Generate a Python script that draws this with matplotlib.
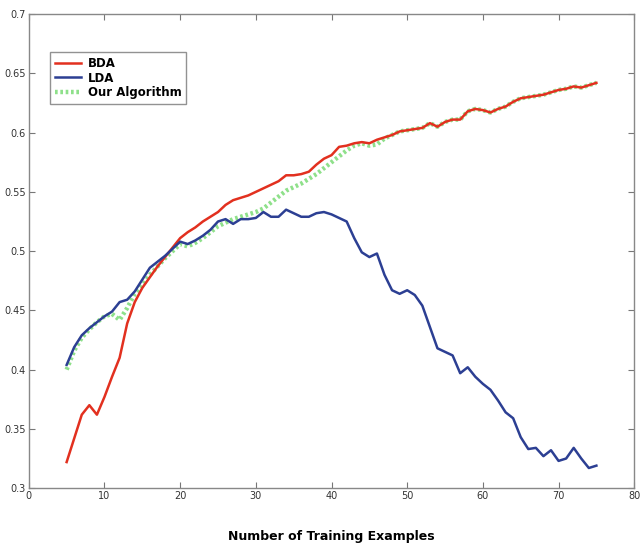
import numpy as np
import matplotlib
matplotlib.use('Agg')
import matplotlib.pyplot as plt

x = np.arange(5, 76)

bda = [0.322, 0.342, 0.362, 0.370, 0.362, 0.377, 0.394, 0.410, 0.439, 0.457,
       0.469, 0.478, 0.487, 0.495, 0.503, 0.511, 0.516, 0.520, 0.525, 0.529,
       0.533, 0.539, 0.543, 0.545, 0.547, 0.550, 0.553, 0.556, 0.559, 0.564,
       0.564, 0.565, 0.567, 0.573, 0.578, 0.581, 0.588, 0.589, 0.591, 0.592,
       0.591, 0.594, 0.596, 0.598, 0.601, 0.602, 0.603, 0.604, 0.608, 0.605,
       0.609, 0.611, 0.611, 0.618, 0.620, 0.619, 0.617, 0.620, 0.622, 0.626,
       0.629, 0.630, 0.631, 0.632, 0.634, 0.636, 0.637, 0.639, 0.638, 0.640,
       0.642]

lda = [0.404, 0.419, 0.429, 0.435, 0.440, 0.445, 0.449, 0.457, 0.459, 0.466,
       0.476, 0.486, 0.491, 0.496, 0.502, 0.508, 0.506, 0.509, 0.513, 0.518,
       0.525, 0.527, 0.523, 0.527, 0.527, 0.528, 0.533, 0.529, 0.529, 0.535,
       0.532, 0.529, 0.529, 0.532, 0.533, 0.531, 0.528, 0.525, 0.511, 0.499,
       0.495, 0.498, 0.480, 0.467, 0.464, 0.467, 0.463, 0.454, 0.436, 0.418,
       0.415, 0.412, 0.397, 0.402, 0.394, 0.388, 0.383, 0.374, 0.364, 0.359,
       0.343, 0.333, 0.334, 0.327, 0.332, 0.323, 0.325, 0.334, 0.325, 0.317,
       0.319]

# "Our Algorithm" follows LDA early on, then merges into BDA from x=48
ours_start = [0.400, 0.416, 0.427, 0.434, 0.440, 0.445, 0.447, 0.442, 0.452, 0.464,
              0.471, 0.480, 0.487, 0.494, 0.500, 0.506, 0.504, 0.507, 0.511, 0.516,
              0.521, 0.524, 0.527, 0.529, 0.531, 0.533, 0.536, 0.541, 0.546, 0.551,
              0.554, 0.557, 0.561, 0.565, 0.570, 0.575, 0.580, 0.585, 0.589, 0.591,
              0.589, 0.590, 0.595]
ours = ours_start + bda[len(ours_start):]

fig = plt.figure(figsize=(6.4, 5.43), dpi=100)
ax = fig.add_axes([0.045, 0.101, 0.946, 0.873])

l_ours, = ax.plot(x, ours, color='#8ee08a', lw=3.2, ls=(0, (0.6, 0.6)), zorder=2)
l_bda, = ax.plot(x, bda, color='#e2301f', lw=1.8, zorder=3)
l_lda, = ax.plot(x, lda, color='#2c3f93', lw=1.8, zorder=3)

ax.set_xlim(0, 80)
ax.set_ylim(0.3, 0.7)
ax.set_xticks(range(0, 81, 10))
ax.set_yticks([0.3, 0.35, 0.4, 0.45, 0.5, 0.55, 0.6, 0.65, 0.7])
ax.set_yticklabels(['0.3', '0.35', '0.4', '0.45', '0.5', '0.55', '0.6', '0.65', '0.7'])
ax.tick_params(direction='in', top=True, right=True, labelsize=7, length=4,
               color='#777777', labelcolor='#333333', pad=2)
for s in ax.spines.values():
    s.set_color('#888888')
    s.set_linewidth(1.0)

ax.set_xlabel('Number of Training Examples', fontsize=9, fontweight='bold', labelpad=21)

leg = ax.legend([l_bda, l_lda, l_ours], ['BDA', 'LDA', 'Our Algorithm'],
                loc='upper left', bbox_to_anchor=(0.035, 0.92),
                prop={'weight': 'bold', 'size': 8.5}, fancybox=False,
                handlelength=2.2, handletextpad=0.6, borderpad=0.4,
                labelspacing=0.15, borderaxespad=0)
leg.get_frame().set_edgecolor('#777777')
leg.get_frame().set_linewidth(1.0)

fig.savefig('out.png', dpi=100)
